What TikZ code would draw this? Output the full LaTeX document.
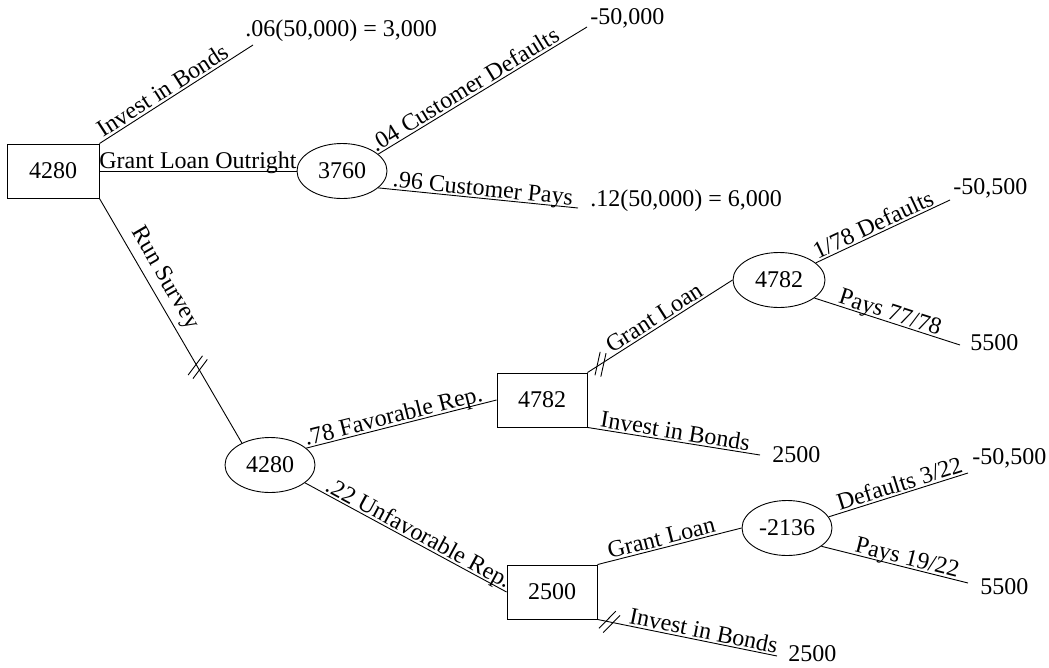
\documentclass[tikz,border=0pt]{standalone}
\usepackage{fontspec}
\setmainfont{Liberation Serif}
\usepackage{tikz}
\usetikzlibrary{shapes.geometric,decorations.markings}

\begin{document}
\begin{tikzpicture}[x=1pt, y=-1pt, line width=0.9pt,
  every node/.style={font=\fontsize{24}{28}\selectfont},
  decbox/.style={draw, rectangle, minimum width=90pt, minimum height=54pt, inner sep=0pt},
  chance/.style={draw, ellipse, minimum width=90pt, minimum height=55pt, inner sep=0pt},
  lbl/.style={sloped, above, inner sep=2pt, text depth=0pt},
  payoff/.style={anchor=west, inner sep=0pt},
  slashmark/.style 2 args={postaction={decorate, decoration={markings,
      mark=at position #1 with {\draw[rotate=#2] (-3pt,-12pt) -- (-3pt,12pt) (3pt,-12pt) -- (3pt,12pt);}}}}]
\useasboundingbox (0,0) rectangle (1049,667);

\node[decbox, minimum width=92pt] (root) at (53,171) {4280};
\node[chance] (c1) at (342,171) {3760};
\node[chance] (c2) at (270,465) {4280};
\node[decbox] (d2) at (542,400) {4782};
\node[decbox] (d3) at (552,592) {2500};
\node[chance, minimum width=92pt] (c3) at (779,280) {4782};
\node[chance] (c4) at (787,528) {-2136};

\coordinate (e1) at (253,45);
\coordinate (e3) at (587,27);
\coordinate (e4) at (578,208);
\coordinate (e5) at (760,455);
\coordinate (e6) at (950,200);
\coordinate (e7) at (960,345);
\coordinate (e8) at (777,656);
\coordinate (e9) at (968,473);
\coordinate (e10) at (968,583);

\node[payoff] (v1) at (245,31) {.06(50,000) = 3,000};
\node[payoff] (v3) at (590,18) {-50,000};
\node[payoff] (v4) at (590,201) {.12(50,000) = 6,000};
\node[payoff] (v5) at (772,455) {2500};
\node[payoff] (v6) at (953,188) {-50,500};
\node[payoff] (v7) at (970,343) {5500};
\node[payoff] (v8) at (788,654) {2500};
\node[payoff] (v9) at (972,458) {-50,500};
\node[payoff] (v10) at (980,587) {5500};

\draw (root.north east) -- (e1) node[lbl, pos=.45] {Invest in Bonds};
\draw (root.east) -- (c1.west) node[lbl, midway] {Grant Loan Outright};
\draw[slashmark={.69}{23}] (root.south east) -- (c2.142)
    node[lbl, pos=.36, inner sep=10pt] {Run Survey};

\draw (c1.25) -- (e3) node[lbl, pos=.44] {.04 Customer Defaults};
\draw (c1.-25) -- (e4) node[lbl, pos=.52] {.96 Customer Pays};

\draw (c2.25) -- (d2.west) node[lbl, pos=.47] {.78 Favorable Rep.};
\draw (c2.-27) -- (d3.west) node[lbl, pos=.54] {.22 Unfavorable Rep.};

\draw[slashmark={.09}{-45}] (d2.north east) -- (c3.west)
    node[lbl, midway] {Grant Loan};
\draw (d2.south east) -- (e5) node[lbl, midway] {Invest in Bonds};
\draw (c3.25) -- (e6) node[lbl, pos=.46] {1/78 Defaults};
\draw (c3.-27) -- (e7) node[lbl, midway] {Pays 77/78};

\draw (d3.north east) -- (c4.west) node[lbl, pos=.46] {Grant Loan};
\draw[slashmark={.067}{-33}] (d3.south east) -- (e8)
    node[lbl, pos=.58] {Invest in Bonds};
\draw (c4.15) -- (e9) node[lbl, pos=.53] {Defaults 3/22};
\draw (c4.-28) -- (e10) node[lbl, pos=.57] {Pays 19/22};

\end{tikzpicture}
\end{document}
